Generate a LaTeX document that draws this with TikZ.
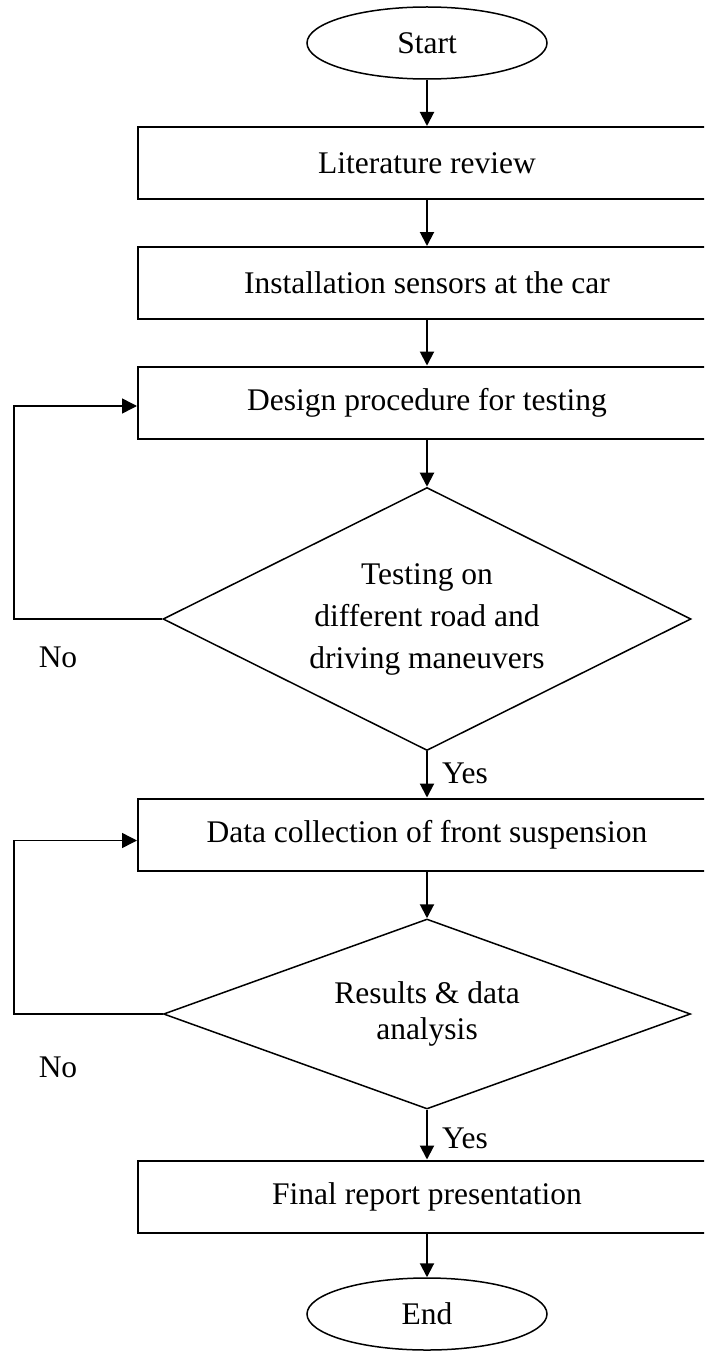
\documentclass[tikz,border=0pt]{standalone}
\usepackage{fontspec}
\setmainfont{Liberation Serif}
\usetikzlibrary{shapes.geometric,arrows.meta}
\begin{document}
\begin{tikzpicture}[x=1pt,y=-1pt,
  every node/.style={font=\fontsize{31.5}{42}\selectfont},
  procbox/.style={draw,line width=2pt,minimum width=578pt,minimum height=72pt,inner sep=0pt},
  term/.style={draw,ellipse,line width=1.5pt,minimum width=240pt,minimum height=72pt,inner sep=0pt},
  decide/.style={draw,diamond,line width=1.5pt,inner sep=0pt,align=center},
  arr/.style={line width=2pt,-{Triangle[length=14pt,width=14pt]}},
  looparr/.style={line width=1.5pt,-{Triangle[length=15pt,width=15pt]}},
  lbl/.style={inner sep=0pt}]
\clip (0,0) rectangle (704,1351);
\fill[white] (0,0) rectangle (704,1351);
\node[term] (start) at (427,43) {Start};
\node[procbox] (b1) at (427,163) {Literature review};
\node[procbox] (b2) at (427,283) {Installation sensors at the car};
\node[procbox] (b3) at (427,402.5) {Design procedure for testing};
\node[decide,aspect=2,minimum width=528pt,minimum height=263pt] (d1) at (427,619) {Testing on\\different road and\\driving maneuvers};
\node[procbox] (b4) at (427,834.5) {Data collection of front suspension};
\node[decide,aspect=2.77,minimum width=527pt,minimum height=190pt,font=\fontsize{31.5}{36}\selectfont] (d2) at (427,1014) {Results \& data\\analysis};
\node[procbox] (b5) at (427,1196.5) {Final report presentation};
\node[term] (end) at (427,1314) {End};
\node[lbl] (y1) at (465,773) {Yes};
\node[lbl] (y2) at (465,1138) {Yes};
\node[lbl] (n1) at (58,657) {No};
\node[lbl] (n2) at (58,1067) {No};
\coordinate (l1) at (14,619);
\coordinate (l2) at (14,1014);
\draw[arr] (start) -- (b1);
\draw[arr] (b1) -- (b2);
\draw[arr] (b2) -- (b3);
\draw[arr] (b3) -- (d1);
\draw[arr] (d1) -- (b4);
\draw[arr] (b4) -- (d2);
\draw[arr] (d2) -- (b5);
\draw[arr] (b5) -- (end);
\draw[looparr] (d1.west) -- (l1) |- ([yshift=-3.5pt]b3.west);
\draw[looparr] (d2.west) -- (l2) |- ([yshift=-6pt]b4.west);
\end{tikzpicture}
\end{document}
